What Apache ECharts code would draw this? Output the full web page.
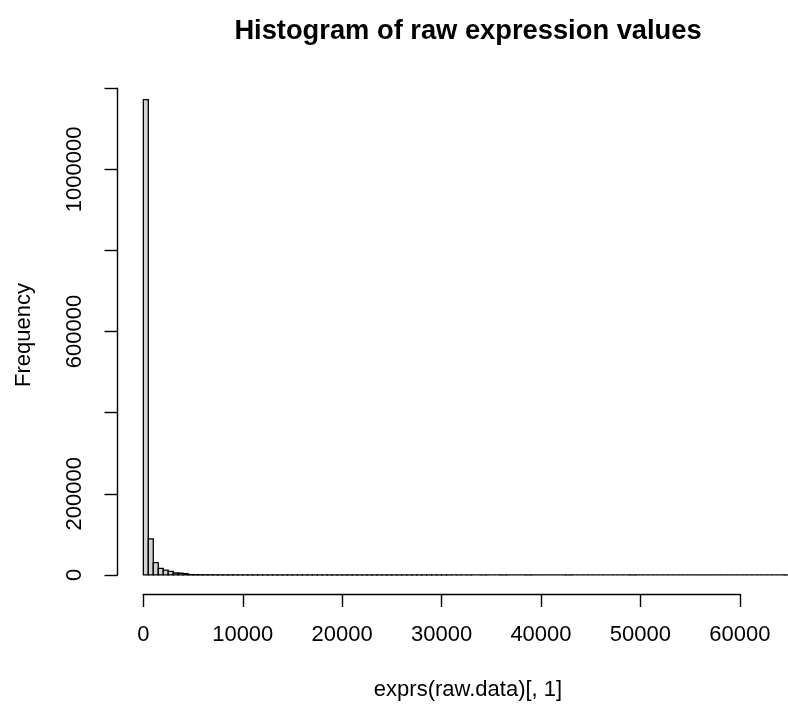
<!DOCTYPE html>
<html>
<head>
<meta charset="utf-8">
<title>Histogram of raw expression values</title>
<script src="https://cdn.jsdelivr.net/npm/echarts@6/dist/echarts.min.js"></script>
<style>
  html, body { margin: 0; padding: 0; background: #ffffff; }
  #chart { width: 788px; height: 704px; }
</style>
</head>
<body>
<div id="chart"></div>
<script>
// Histogram of the first sample's raw expression values (bins of width 500).
const binWidth = 500;
const counts = [
  1172000, 88700, 30300, 16000, 11800, 8600, 4800, 4100, 3400, 900,
  650, 480, 380, 300, 240, 200, 165, 140, 120, 100,
  86, 74, 64, 56, 49, 43, 38, 34, 30, 27,
  24, 21, 19, 17, 15, 13, 12, 11, 10, 9,
  8, 7, 6, 6, 5, 5, 4, 4, 3, 3,
  3, 3, 2, 2, 2, 2, 2, 1, 1, 1,
  1, 1, 0, 1, 0, 1, 0, 0, 1, 0,
  0, 0, 1, 0, 0, 0, 0, 1, 0, 0,
  0, 0, 0, 0, 0, 1, 0, 0, 0, 0,
  0, 0, 0, 0, 0, 0, 0, 0, 1, 0,
  0, 0, 0, 0, 0, 0, 0, 0, 0, 0,
  0, 0, 0, 0, 0, 0, 0, 0, 0, 0,
  0, 0, 0, 0, 0, 0, 0, 0, 0, 1
];

// Axis ticks and the tick labels that are printed.
const xTicks = [0, 10000, 20000, 30000, 40000, 50000, 60000];
const yTicks = [0, 200000, 400000, 600000, 800000, 1000000, 1200000];
const yTickLabels = ['0', '200000', '600000', '1000000'];

const mainTitle = 'Histogram of raw expression values';
const xTitle = 'exprs(raw.data)[, 1]';
const yTitle = 'Frequency';

// Visible part of the plot region; the last bins run off the right edge.
const xRange = [-2600, 64800];
const yRange = [-47000, 1219000];
const plot = { left: 117.5, top: 80.5, width: 670, height: 513.5 };

const FONT = '"Liberation Sans", Arial, Helvetica, sans-serif';
const INK = '#000000';

const bins = counts.map((c, i) => [i * binWidth, (i + 1) * binWidth, c]);

const pxPerX = plot.width / (xRange[1] - xRange[0]);
const pxPerY = plot.height / (yRange[1] - yRange[0]);
const xAt = v => plot.left + (v - xRange[0]) * pxPerX;
const yAt = v => plot.top + (yRange[1] - v) * pxPerY;

const xAxisGrid = {
  left: xAt(xTicks[0]),
  width: xAt(xTicks[xTicks.length - 1]) - xAt(xTicks[0]),
  top: plot.top + plot.height - 10,
  height: 10
};
const yAxisGrid = {
  left: plot.left,
  width: 10,
  top: yAt(yTicks[yTicks.length - 1]),
  height: yAt(yTicks[0]) - yAt(yTicks[yTicks.length - 1])
};

const axisLine = { show: true, lineStyle: { color: INK, width: 1.4 } };
const axisTick = { show: true, inside: false, length: 13, lineStyle: { color: INK, width: 1.4 } };

const chart = echarts.init(document.getElementById('chart'), null, { renderer: 'canvas' });

chart.setOption({
  animation: false,
  backgroundColor: '#ffffff',
  grid: [
    Object.assign({ containLabel: false }, plot),
    Object.assign({ containLabel: false }, xAxisGrid),
    Object.assign({ containLabel: false }, yAxisGrid)
  ],
  xAxis: [
    { gridIndex: 0, type: 'value', min: xRange[0], max: xRange[1], show: false },
    {
      gridIndex: 1, type: 'value', position: 'bottom',
      min: xTicks[0], max: xTicks[xTicks.length - 1], interval: xTicks[1] - xTicks[0],
      axisLine: axisLine, axisTick: axisTick, splitLine: { show: false },
      axisLabel: {
        show: true, margin: 30, color: INK, fontFamily: FONT, fontSize: 22,
        showMinLabel: true, showMaxLabel: true,
        formatter: v => String(v)
      }
    },
    { gridIndex: 2, type: 'value', min: 0, max: 1, show: false }
  ],
  yAxis: [
    { gridIndex: 0, type: 'value', min: yRange[0], max: yRange[1], show: false },
    { gridIndex: 1, type: 'value', min: 0, max: 1, show: false },
    {
      gridIndex: 2, type: 'value', position: 'left',
      min: yTicks[0], max: yTicks[yTicks.length - 1], interval: yTicks[1] - yTicks[0],
      axisLine: axisLine, axisTick: axisTick, splitLine: { show: false },
      axisLabel: {
        show: true, rotate: 90, margin: 32, color: INK, fontFamily: FONT, fontSize: 22,
        showMinLabel: true, showMaxLabel: true,
        formatter: v => (yTickLabels.indexOf(String(v)) >= 0 ? String(v) : '')
      }
    }
  ],
  series: [{
    type: 'custom',
    xAxisIndex: 0,
    yAxisIndex: 0,
    clip: false,
    data: bins,
    renderItem: function (params, api) {
      const p0 = api.coord([api.value(0), 0]);
      const p1 = api.coord([api.value(1), api.value(2)]);
      return {
        type: 'rect',
        shape: { x: p0[0], y: p1[1], width: p1[0] - p0[0], height: p0[1] - p1[1] },
        style: { fill: '#d3d3d3', stroke: INK, lineWidth: 1.3 }
      };
    }
  }],
  graphic: [
    {
      type: 'text', x: 468, y: 31,
      style: { text: mainTitle, font: 'bold 27.3px ' + FONT, fill: INK, align: 'center', verticalAlign: 'middle' }
    },
    {
      type: 'text', x: 468, y: 690,
      style: { text: xTitle, font: '22px ' + FONT, fill: INK, align: 'center', verticalAlign: 'middle' }
    },
    {
      type: 'text', x: 23.5, y: 335, rotation: Math.PI / 2,
      style: { text: yTitle, font: '22px ' + FONT, fill: INK, align: 'center', verticalAlign: 'middle' }
    }
  ]
});
</script>
</body>
</html>
